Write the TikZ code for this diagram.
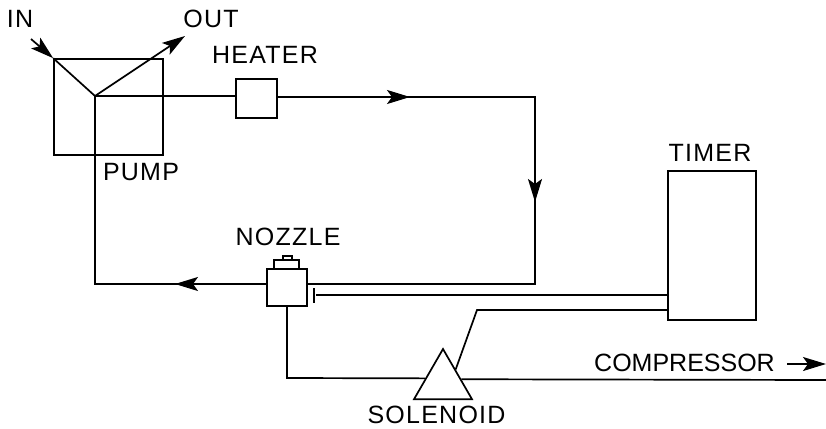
\documentclass[tikz,border=0pt]{standalone}
\usepackage{fontspec}
\setmainfont{Liberation Sans}
\newfontfamily\tagfont[LetterSpace=5]{Liberation Sans}
\usetikzlibrary{arrows.meta,shapes}

\begin{document}
\begin{tikzpicture}[x=1pt,y=-1pt,line width=1.7pt]
        \tikzstyle{every node}=[inner sep=0pt]
        \tikzstyle{unit}=[draw, rectangle]
        \tikzstyle{tag}=[font=\tagfont\fontsize{25}{25}\selectfont]
        \tikzstyle{tagtight}=[font=\fontsize{25}{25}\selectfont]
        \tikzstyle{tip}=[-{Stealth[length=23pt,width=14pt,inset=5pt]}]

        \useasboundingbox (0,0) rectangle (826,428);

        \node[unit, minimum width=109pt, minimum height=96pt] (pump)   at (108.5,107)  {};
        \node[unit, minimum width=41pt,  minimum height=39pt] (heater) at (256.5,98.5) {};
        \node[unit, minimum width=40pt,  minimum height=37pt] (nozzle) at (287,287.5)  {};
        \node[unit, minimum width=25pt,  minimum height=9pt]  (capA)   at (286.5,264.5) {};
        \node[unit, minimum width=9pt,   minimum height=4pt]  (capB)   at (287.5,258)  {};
        \node[unit, minimum width=88pt,  minimum height=149pt] (timer) at (712,245.5)  {};
        \node[draw, regular polygon, regular polygon sides=3, minimum size=67pt] (solenoid) at (443,382.5) {};
        \node[fill=black, minimum width=2.5pt, minimum height=15pt] (stop) at (314,295) {};

        \node[tag] (inL)    at (20,19)    {IN};
        \node[tag] (outL)   at (211,19)   {OUT};
        \node[tag] (heatL)  at (265,55)   {HEATER};
        \node[tag] (pumpL)  at (141,172)  {PUMP};
        \node[tag] (nozL)   at (288,237)  {NOZZLE};
        \node[tag] (timeL)  at (710,153)  {TIMER};
        \node[tag] (solL)   at (436.5,415) {SOLENOID};
        \node[tagtight] (compL)  at (684.5,363) {COMPRESSOR};

        \coordinate (inS)    at (31,39);
        \coordinate (outE)   at (185,36);
        \coordinate (junc)   at (95,96);
        \coordinate (flowA)  at (410,97);
        \coordinate (turnA)  at (535,97);
        \coordinate (flowB)  at (535,202);
        \coordinate (turnB)  at (535,284);
        \coordinate (turnC)  at (95,284);
        \coordinate (flowC)  at (175,284);
        \coordinate (wireA)  at (287,378);
        \coordinate (wireB)  at (477,310);
        \coordinate (wireE)  at (826,380);
        \coordinate (compS)  at (787,364);
        \coordinate (compE)  at (826,364);

        % water circuit
        \draw[tip] (inS) -- (pump.north west);
        \draw (pump.north west) -- (junc);
        \draw[tip] (junc) -- (outE);
        \draw (junc) -- (heater.west |- junc);
        \draw (heater.east |- turnA) -- (turnA) -- (turnB) -- (nozzle.east |- turnB);
        \draw[tip] (heater.east |- flowA) -- (flowA);
        \draw[tip] (turnA) -- (flowB);
        \draw (nozzle.west |- turnC) -- (turnC) -- (junc);
        \draw[tip] (nozzle.west |- turnC) -- (flowC);

        % control wires
        \draw (stop) -- (timer.west |- stop);
        \draw (timer.west |- wireB) -- (wireB) -- (solenoid.46);
        \draw (nozzle.south) -- (wireA) -- (solenoid.167);
        \draw (solenoid.10) -- (wireE);
        \draw[tip] (compS) -- (compE);
\end{tikzpicture}
\end{document}
